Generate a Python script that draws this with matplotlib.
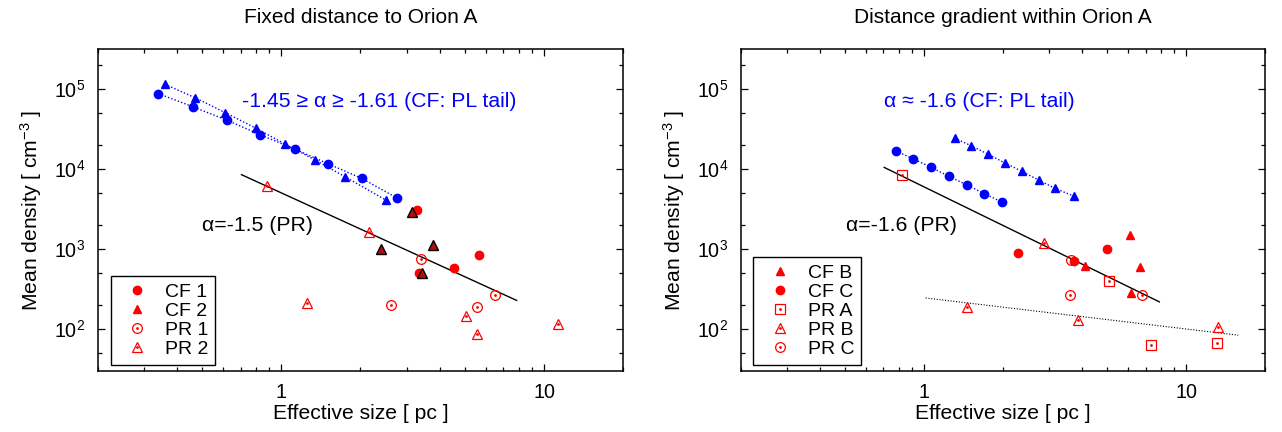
import numpy as np
import matplotlib
matplotlib.use('Agg')
import matplotlib.pyplot as plt
from matplotlib.ticker import LogLocator, NullFormatter
from matplotlib.lines import Line2D

plt.rcParams['font.family'] = ['Liberation Sans', 'DejaVu Sans']
plt.rcParams['mathtext.fontset'] = 'custom'
plt.rcParams['mathtext.rm'] = 'Liberation Sans'
plt.rcParams['mathtext.it'] = 'Liberation Sans:italic'
plt.rcParams['mathtext.default'] = 'regular'

# ---------------- Left panel data: fixed distance ----------------
L_cf1_tail_x = [0.34, 0.4615, 0.62, 0.832, 1.123, 1.503, 2.023, 2.749]
L_cf1_tail_y = [86700, 59200, 40400, 26500, 17600, 11540, 7570, 4320]
L_cf2_tail_x = [0.360, 0.471, 0.61, 0.799, 1.032, 1.341, 1.744, 2.49]
L_cf2_tail_y = [113500, 76600, 50300, 32100, 20300, 12900, 7950, 4080]

L_cf1_x = [3.27, 5.66, 4.52, 3.35]
L_cf1_y = [3060, 825, 568, 497]
L_cf2_x = [3.13, 2.398, 3.79, 3.43]
L_cf2_y = [2910, 980, 1121, 502]
L_pr1_x = [3.41, 2.617, 5.55, 6.50]
L_pr1_y = [750, 201, 187, 262]
L_pr2_x = [0.882, 2.151, 1.251, 5.04, 5.55, 11.3]
L_pr2_y = [6140, 1610, 210, 145, 85.7, 116]

L_fit_xrange = [0.705, 7.85]
L_fit_amp = 4984
L_fit_slope = -1.5

# ---------------- Right panel data: distance gradient ----------------
R_cfc_tail_x = [0.781, 0.911, 1.067, 1.244, 1.457, 1.70, 1.99]
R_cfc_tail_y = [16750, 13200, 10380, 8020, 6270, 4880, 3805]
R_cfb_tail_x = [1.308, 1.514, 1.750, 2.038, 2.364, 2.734, 3.16, 3.72]
R_cfb_tail_y = [24100, 19340, 15240, 11780, 9260, 7230, 5680, 4550]

R_cfb_x = [6.08, 6.64, 6.17, 4.11]
R_cfb_y = [1507, 590, 283, 607]
R_cfc_x = [2.283, 5.0, 3.735]
R_cfc_y = [881, 980, 701]
R_pra_x = [0.821, 5.07, 7.37, 13.08]
R_pra_y = [8350, 395, 63.7, 65.6]
R_prb_x = [2.873, 1.453, 3.868, 13.19]
R_prb_y = [1174, 187, 130.6, 106.9]
R_prc_x = [3.65, 3.60, 6.77]
R_prc_y = [715, 262, 267]

R_fit_xrange = [0.705, 7.9]
R_fit_amp = 5933
R_fit_slope = -1.6
R_flat_xrange = [1.015, 15.8]
R_flat_amp = 244.4
R_flat_slope = -0.39

BLUE = '#0000ff'
RED = '#ff0000'
FS_TICK = 14.2
FS_LEG = 14
FS_LAB = 15.2
FS_TITLE = 15
FS_ANN = 15.3

fig = plt.figure(figsize=(12.82, 4.32), dpi=100)
axL = fig.add_axes([0.0762, 0.1419, 0.41, 0.744])
axR = fig.add_axes([0.5778, 0.1419, 0.409, 0.744])

DOT = dict(linestyle='none', marker='.', ms=2.0, color=RED)


def style_axis(ax):
    ax.set_xscale('log')
    ax.set_yscale('log')
    ax.set_xlim(0.2, 20)
    ax.set_ylim(30, 3.1e5)
    ax.xaxis.set_major_locator(LogLocator(base=10, subs=(1.0,)))
    ax.xaxis.set_minor_locator(LogLocator(base=10, subs=np.arange(2, 10)))
    ax.yaxis.set_major_locator(LogLocator(base=10, subs=(1.0,)))
    ax.yaxis.set_minor_locator(LogLocator(base=10, subs=(2.0, 5.0)))
    ax.xaxis.set_minor_formatter(NullFormatter())
    ax.yaxis.set_minor_formatter(NullFormatter())
    ax.xaxis.set_major_formatter(matplotlib.ticker.FuncFormatter(lambda v, p: '%g' % v))
    ax.tick_params(which='both', direction='in', top=True, right=True,
                   labelsize=FS_TICK, pad=9, width=0.9)
    ax.tick_params(which='major', length=5)
    ax.tick_params(which='minor', length=3)
    for s in ax.spines.values():
        s.set_linewidth(1.1)
    ax.set_xlabel('Effective size [ pc ]', fontsize=FS_LAB, labelpad=1)
    ax.set_ylabel('Mean density [ cm$^{-3}$ ]', fontsize=FS_LAB, labelpad=7)


def open_with_dot(ax, x, y, marker, ms):
    ax.plot(x, y, linestyle='none', marker=marker, ms=ms, mfc='none', mec=RED, mew=0.9)
    ax.plot(x, y, **DOT)


# ---------------- Left ----------------
style_axis(axL)
axL.plot(L_cf2_tail_x, L_cf2_tail_y, color=BLUE, ls=(0, (1, 1.5)), lw=1.0,
         marker='^', ms=6, mfc=BLUE, mec=BLUE)
axL.plot(L_cf1_tail_x, L_cf1_tail_y, color=BLUE, ls=(0, (1, 1.5)), lw=1.0,
         marker='o', ms=6, mfc=BLUE, mec=BLUE)
fx = np.array(L_fit_xrange)
axL.plot(fx, L_fit_amp * fx ** L_fit_slope, color='black', lw=1.0)
axL.plot(L_cf1_x, L_cf1_y, ls='none', marker='o', ms=6, color=RED)
axL.plot(L_cf2_x, L_cf2_y, ls='none', marker='^', ms=7, mfc='#b01010', mec='black', mew=1.0)
open_with_dot(axL, L_pr1_x, L_pr1_y, 'o', 7)
open_with_dot(axL, L_pr2_x, L_pr2_y, '^', 7)
axL.text(0.274, 0.839, '-1.45 \u2265 \u03b1 \u2265 -1.61 (CF: PL tail)', color=BLUE,
         fontsize=FS_ANN, transform=axL.transAxes, ha='left', va='center')
axL.text(0.198, 0.453, '\u03b1=-1.5 (PR)', color='black', fontsize=FS_ANN,
         transform=axL.transAxes, ha='left', va='center')
axL.set_title('Fixed distance to Orion A', fontsize=FS_TITLE, pad=19)

hL = [Line2D([], [], ls='none', marker='o', ms=6, color=RED),
      Line2D([], [], ls='none', marker='^', ms=6, color=RED),
      (Line2D([], [], ls='none', marker='o', ms=7, mfc='none', mec=RED, mew=0.9), Line2D([], [], **DOT)),
      (Line2D([], [], ls='none', marker='^', ms=7, mfc='none', mec=RED, mew=0.9), Line2D([], [], **DOT))]
legL = axL.legend(hL, ['CF 1', 'CF 2', 'PR 1', 'PR 2'], loc='lower left',
                  bbox_to_anchor=(0.0247, 0.0177), borderaxespad=0, fontsize=FS_LEG,
                  handlelength=2.0, handletextpad=0.45, labelspacing=0.08,
                  borderpad=0.35, fancybox=False, edgecolor='black', framealpha=1)
legL.get_frame().set_linewidth(1.0)

# ---------------- Right ----------------
style_axis(axR)
axR.plot(R_cfb_tail_x, R_cfb_tail_y, color=BLUE, ls=(0, (1, 1.5)), lw=1.0,
         marker='^', ms=6, mfc=BLUE, mec=BLUE)
axR.plot(R_cfc_tail_x, R_cfc_tail_y, color=BLUE, ls=(0, (1, 1.5)), lw=1.0,
         marker='o', ms=6, mfc=BLUE, mec=BLUE)
fx = np.array(R_fit_xrange)
axR.plot(fx, R_fit_amp * fx ** R_fit_slope, color='black', lw=1.0)
fx = np.array(R_flat_xrange)
axR.plot(fx, R_flat_amp * fx ** R_flat_slope, color='black', lw=0.8, ls=(0, (1, 1.5)))
axR.plot(R_cfb_x, R_cfb_y, ls='none', marker='^', ms=6, color=RED)
axR.plot(R_cfc_x, R_cfc_y, ls='none', marker='o', ms=6, color=RED)
open_with_dot(axR, R_pra_x, R_pra_y, 's', 7)
open_with_dot(axR, R_prb_x, R_prb_y, '^', 7)
open_with_dot(axR, R_prc_x, R_prc_y, 'o', 7)
axR.text(0.274, 0.839, '\u03b1 \u2248 -1.6 (CF: PL tail)', color=BLUE,
         fontsize=FS_ANN, transform=axR.transAxes, ha='left', va='center')
axR.text(0.2, 0.453, '\u03b1=-1.6 (PR)', color='black', fontsize=FS_ANN,
         transform=axR.transAxes, ha='left', va='center')
axR.set_title('Distance gradient within Orion A', fontsize=FS_TITLE, pad=19)

hR = [Line2D([], [], ls='none', marker='^', ms=6, color=RED),
      Line2D([], [], ls='none', marker='o', ms=6, color=RED),
      (Line2D([], [], ls='none', marker='s', ms=7, mfc='none', mec=RED, mew=0.9), Line2D([], [], **DOT)),
      (Line2D([], [], ls='none', marker='^', ms=7, mfc='none', mec=RED, mew=0.9), Line2D([], [], **DOT)),
      (Line2D([], [], ls='none', marker='o', ms=7, mfc='none', mec=RED, mew=0.9), Line2D([], [], **DOT))]
legR = axR.legend(hR, ['CF B', 'CF C', 'PR A', 'PR B', 'PR C'], loc='lower left',
                  bbox_to_anchor=(0.024, 0.0177), borderaxespad=0, fontsize=FS_LEG,
                  handlelength=2.0, handletextpad=0.45, labelspacing=0.08,
                  borderpad=0.35, fancybox=False, edgecolor='black', framealpha=1)
legR.get_frame().set_linewidth(1.0)

fig.savefig('out.png', dpi=100)
